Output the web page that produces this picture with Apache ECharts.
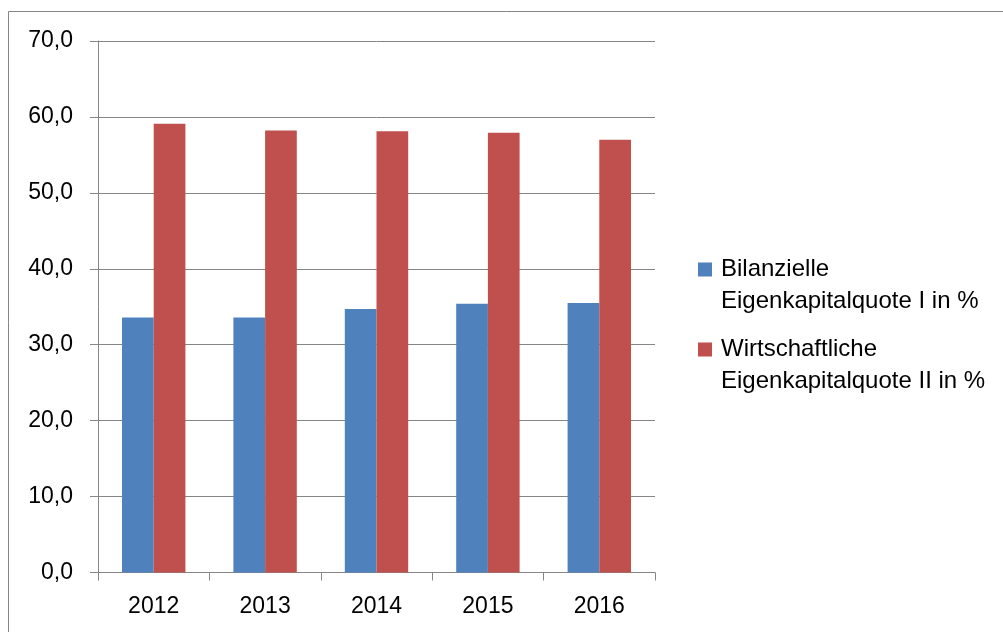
<!DOCTYPE html>
<html>
<head>
<meta charset="utf-8">
<script src="https://cdn.jsdelivr.net/npm/echarts@6/dist/echarts.min.js"></script>
<style>
html,body{margin:0;padding:0;background:#fff;}
#chart{width:1003px;height:632px;}
</style>
</head>
<body>
<div id="chart"></div>
<script>
var years = ['2012', '2013', '2014', '2015', '2016'];
var seriesNames = ['Bilanzielle\nEigenkapitalquote I in %', 'Wirtschaftliche\nEigenkapitalquote II in %'];
var bilanzielle = [33.6, 33.6, 34.7, 35.4, 35.5];
var wirtschaftliche = [59.1, 58.2, 58.1, 57.9, 57.0];

var FONT = 'Liberation Sans';
var GREY = '#868686';
var chart = echarts.init(document.getElementById('chart'), null, {renderer: 'canvas'});

function legendCfg(name, top) {
  return {
    data: [name],
    left: 698,
    top: top,
    padding: 0,
    orient: 'vertical',
    icon: 'path://M0,0h14v14h-14zM18,0h0.01v0.01h-0.01z',
    itemWidth: 18,
    itemHeight: 14,
    selectedMode: false,
    formatter: function (n) { return ' \n' + n; },
    textStyle: {
      fontFamily: FONT,
      fontSize: 24,
      color: '#000',
      lineHeight: 32
    }
  };
}

chart.setOption({
  animation: false,
  backgroundColor: '#fff',
  textStyle: {fontFamily: FONT},
  graphic: [{
    type: 'rect',
    shape: {x: 8.5, y: 11.5, width: 1100, height: 700},
    style: {fill: 'none', stroke: GREY, lineWidth: 1},
    silent: true,
    z: -10
  }],
  legend: [
    legendCfg(seriesNames[0], 221.5),
    legendCfg(seriesNames[1], 301.5)
  ],
  grid: {left: 98, top: 41, width: 557, height: 531.5},
  xAxis: {
    type: 'category',
    data: years,
    boundaryGap: true,
    axisLine: {lineStyle: {color: GREY, width: 1}},
    axisTick: {show: true, length: 8, lineStyle: {color: GREY}},
    axisLabel: {fontFamily: FONT, fontSize: 23, color: '#000', margin: 23}
  },
  yAxis: {
    type: 'value',
    min: 0,
    max: 70,
    interval: 10,
    axisLine: {show: true, lineStyle: {color: GREY, width: 1}},
    axisTick: {show: true, length: 8, lineStyle: {color: GREY}},
    splitLine: {show: true, lineStyle: {color: GREY, width: 1}},
    axisLabel: {
      fontFamily: FONT, fontSize: 23, color: '#000', margin: 25,
      formatter: function (v) { return v.toFixed(1).replace('.', ','); }
    }
  },
  series: [
    {
      name: seriesNames[0],
      type: 'bar',
      data: bilanzielle,
      barWidth: 31.7,
      barGap: '0%',
      itemStyle: {color: '#4F81BD'}
    },
    {
      name: seriesNames[1],
      type: 'bar',
      data: wirtschaftliche,
      barWidth: 31.7,
      barGap: '0%',
      itemStyle: {color: '#C0504D'}
    }
  ]
});
</script>
</body>
</html>
